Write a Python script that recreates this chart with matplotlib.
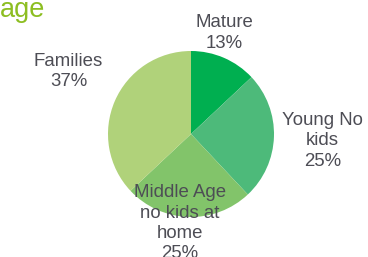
import matplotlib
matplotlib.use('Agg')
import matplotlib.pyplot as plt

segments = ['Mature', 'Young No\nkids', 'Middle Age\nno kids at\nhome', 'Families']
shares = [13, 25, 25, 37]
colors = ['#00AF50', '#4DBA7A', '#82C46A', '#B0D27A']

plt.rcParams['font.family'] = ['Liberation Sans', 'DejaVu Sans']

W, H = 368, 257
fig = plt.figure(figsize=(W / 100, H / 100), dpi=100)

# pie centre ~ (191, 134) px, radius ~83 px
cx, cy, r = 191, 134, 83
ax = fig.add_axes([(cx - r) / W, (H - cy - r) / H, 2 * r / W, 2 * r / H])
ax.pie(shares, colors=colors, startangle=90, counterclock=False, radius=1,
       wedgeprops=dict(linewidth=0))
ax.set_xlim(-1, 1)
ax.set_ylim(-1, 1)
ax.set_aspect('equal')
ax.axis('off')

# label x centre and baseline of last line (pixels, from top-left)
label_pos = [(224.5, 47.7), (322.5, 165.7), (179.7, 258), (68.5, 86)]
for name, val, (px, py) in zip(segments, shares, label_pos):
    fig.text(px / W, 1 - py / H, f'{name}\n{val}%', ha='center', va='baseline',
             fontsize=13.4, color='#4D4D55', linespacing=1.25)

fig.text(0.0, 1 - 17 / H, 'age', ha='left', va='baseline', fontsize=19.5,
         color='#8DBE22')

fig.savefig('out.png', dpi=100)
